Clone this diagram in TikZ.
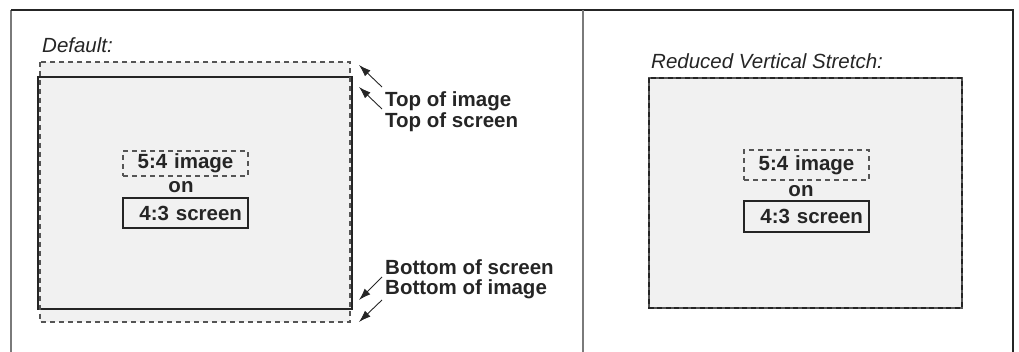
\documentclass[tikz,border=0pt]{standalone}
\usepackage{fontspec}
\setmainfont{Liberation Sans}
\usetikzlibrary{arrows.meta}
\definecolor{ink}{HTML}{252525}
\definecolor{fillg}{HTML}{F1F1F1}
\definecolor{framegray}{HTML}{7A7A7A}
\definecolor{dashgray}{HTML}{555555}
\begin{document}
\begin{tikzpicture}[x=1pt,y=-1pt,
  lbl/.style={font=\fontsize{20.5}{21}\selectfont\bfseries, text=ink, inner sep=0pt, anchor=base west},
  ttl/.style={font=\fontsize{20.5}{21}\selectfont\itshape, text=ink, inner sep=0pt, anchor=base west},
  dsh/.style={draw=dashgray, dash pattern=on 5pt off 4pt, line width=1.1pt},
  imgbox/.style={dsh, font=\fontsize{20.5}{21}\selectfont\bfseries, text=ink, minimum width=125pt, inner xsep=6pt, text width=113pt, align=center, inner ysep=0pt},
  scrbox/.style={draw=ink, line width=1.5pt, font=\fontsize{20.5}{21}\selectfont\bfseries, text=ink, minimum width=125pt, inner xsep=6pt, text width=113pt, align=right, inner ysep=0pt},
  ontxt/.style={font=\fontsize{20.5}{21}\selectfont\bfseries, text=ink, inner sep=0pt, anchor=base},
  arr/.style={draw=ink, line width=0.9pt, -{Latex[length=12pt,width=8pt]}}
]
\useasboundingbox (0,0) rectangle (1019,352);

% frame
\draw[framegray, line width=1.2pt] (11,352) -- (11,10);
\draw[ink, line width=1.2pt] (11,10) -- (1013,10) -- (1013,352);
\draw[framegray, line width=1.5pt] (583,10) -- (583,352);

% ---------- left panel ----------
\node[ttl] (deftitle) at (42,53) {Default:};
\path[fill=fillg] (40,62) rectangle (350,322);
\draw[ink, line width=1.8pt, fill=fillg] (38,77) rectangle (352,309);
\draw[dsh] (40,62) rectangle (350,322);

\node[imgbox, minimum height=25pt] (limg) at (185.5,163.5) {5:4 image};
\node[ontxt] (lon) at (181,193) {on};
\node[scrbox, minimum height=30pt] (lscr) at (185.5,213) {4:3 screen};

\node[lbl] (topimg) at (385,107) {Top of image};
\node[lbl] (topscr) at (385,128) {Top of screen};
\node[lbl] (botscr) at (385,275) {Bottom of screen};
\node[lbl] (botimg) at (385,295) {Bottom of image};

\coordinate (a1s) at (382,87);  \coordinate (a1e) at (359,65);
\coordinate (a2s) at (382,109); \coordinate (a2e) at (359,87);
\coordinate (a3s) at (382,277); \coordinate (a3e) at (359,300);
\coordinate (a4s) at (382,300); \coordinate (a4e) at (359,322);
\draw[arr] (a1s) -- (a1e);
\draw[arr] (a2s) -- (a2e);
\draw[arr] (a3s) -- (a3e);
\draw[arr] (a4s) -- (a4e);

% ---------- right panel ----------
\node[ttl] (redtitle) at (651,69) {Reduced Vertical Stretch:};
\draw[dashgray, line width=1.5pt, fill=fillg] (649,78) rectangle (962,308);
\draw[ink, line width=2.4pt, dash pattern=on 5pt off 3.5pt] (649,78) rectangle (962,308);

\node[imgbox, minimum height=30pt] (rimg) at (806.5,165) {5:4 image};
\node[ontxt] (ron) at (801,197) {on};
\node[scrbox, minimum height=31pt] (rscr) at (806.5,216.5) {4:3 screen};
\end{tikzpicture}
\end{document}
